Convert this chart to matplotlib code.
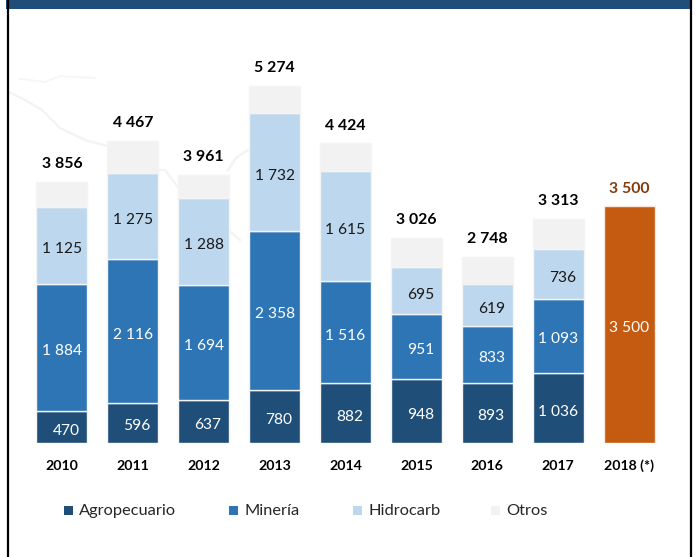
import matplotlib
matplotlib.use('Agg')
import matplotlib.pyplot as plt
from matplotlib.patches import Rectangle
from matplotlib.lines import Line2D

W, H = 696, 557

years = ['2010', '2011', '2012', '2013', '2014', '2015', '2016', '2017', '2018 (*)']
agro = [470, 596, 637, 780, 882, 948, 893, 1036]
mineria = [1884, 2116, 1694, 2358, 1516, 951, 833, 1093]
hidro = [1125, 1275, 1288, 1732, 1615, 695, 619, 736]
otros = [377, 480, 342, 404, 411, 432, 403, 448]
totals = [3856, 4467, 3961, 5274, 4424, 3026, 2748, 3313]
total_2018 = 3500

c_agro = '#1F4E79'
c_min = '#2E75B6'
c_hid = '#BDD7EE'
c_otr = '#F2F2F2'
c_2018 = '#C55A11'
c_2018_txt = '#843C0C'
font = 'Lato'


def fmt(v):
    return f'{v:,}'.replace(',', ' ')


def px_x(x):
    return x / W


def px_y(y):
    return 1 - y / H


fig = plt.figure(figsize=(W / 100, H / 100), dpi=100)
plt.rcParams['font.family'] = font

# marco y franja superior
fig.add_artist(Line2D([px_x(8), px_x(8)], [0, 1], color='black', lw=1.6))
fig.add_artist(Line2D([px_x(691), px_x(691)], [0, 1], color='black', lw=1.6))
fig.add_artist(Rectangle((px_x(6), px_y(9)), px_x(684), 9 / H, color=c_agro, lw=0))

# mapa de fondo, muy tenue
fig.add_artist(Line2D([px_x(v) for v in [9, 25, 42, 60, 85, 107, 130, 165, 180, 210, 240]],
                      [px_y(v) for v in [92, 100, 110, 128, 140, 146, 170, 170, 190, 215, 240]],
                      color='#F3F3F3', lw=1.6, zorder=-1))
fig.add_artist(Line2D([px_x(v) for v in [20, 45, 60, 95]],
                      [px_y(v) for v in [79, 82, 76, 78]], color='#F6F6F6', lw=1.4, zorder=-1))
fig.add_artist(Line2D([px_x(v) for v in [228, 236, 248]],
                      [px_y(v) for v in [170, 158, 150]], color='#F3F3F3', lw=1.6, zorder=-1))

# 0 en y=443 px, 0.0677 px por unidad
ax = fig.add_axes([px_x(26.5), px_y(443), (664.5 - 26.5) / W, 379 / H])
ax.patch.set_alpha(0)
ax.set_xlim(-0.5, 8.5)
ax.set_ylim(0, 379 / 0.0677)

xs = list(range(8))
bw = 0.72
edge = dict(edgecolor='#F4F4F4', linewidth=1.0)
bottom = [0] * 8
for vals, col, name in [(agro, c_agro, 'Agropecuario'), (mineria, c_min, 'Minería'),
                        (hidro, c_hid, 'Hidrocarb'), (otros, c_otr, 'Otros')]:
    ax.bar(xs, vals, bw, bottom=bottom, color=col, label=name, **edge)
    if col != c_otr:
        txt = 'white' if col != c_hid else '#1A1A1A'
        for x, v, b in zip(xs, vals, bottom):
            dx = 2.9 if v < 1000 else 0
            ax.annotate(fmt(v), (x, b + v / 2), xytext=(dx, -2.6), textcoords='offset points',
                        ha='center', va='center', color=txt, fontsize=11.2)
    bottom = [b + v for b, v in zip(bottom, vals)]

ax.bar([8], [total_2018], bw, color=c_2018, edgecolor='#F8E6DA', linewidth=1.0)
ax.annotate(fmt(total_2018), (8, total_2018 / 2), xytext=(0, -2.6), textcoords='offset points',
            ha='center', va='center', color='white', fontsize=11.2)

for x, t in zip(xs, totals):
    ax.annotate(fmt(t), (x, t), xytext=(0, 7.8), textcoords='offset points',
                ha='center', va='bottom', fontweight='bold', fontsize=11.4, color='black')
ax.annotate(fmt(total_2018), (8, total_2018), xytext=(0, 7), textcoords='offset points',
            ha='center', va='bottom', fontweight='bold', fontsize=11.4, color=c_2018_txt)

ax.set_xticks(range(9))
ax.set_xticklabels(years, fontweight='bold', fontsize=10.2)
ax.tick_params(axis='x', length=0, pad=12)
ax.set_yticks([])
for s in ax.spines.values():
    s.set_visible(False)

# leyenda
handles, labels = ax.get_legend_handles_labels()
legend_x = [64, 229, 353, 491]
for h, lab, lx in zip(handles, labels, legend_x):
    col = h.patches[0].get_facecolor()
    fig.add_artist(Rectangle((px_x(lx), px_y(515)), 9 / W, 9 / H, facecolor=col, lw=0))
    fig.text(px_x(lx + 15), px_y(511), lab, ha='left', va='center', fontsize=11.8, color='#262626')

fig.savefig('out.png', dpi=100)
